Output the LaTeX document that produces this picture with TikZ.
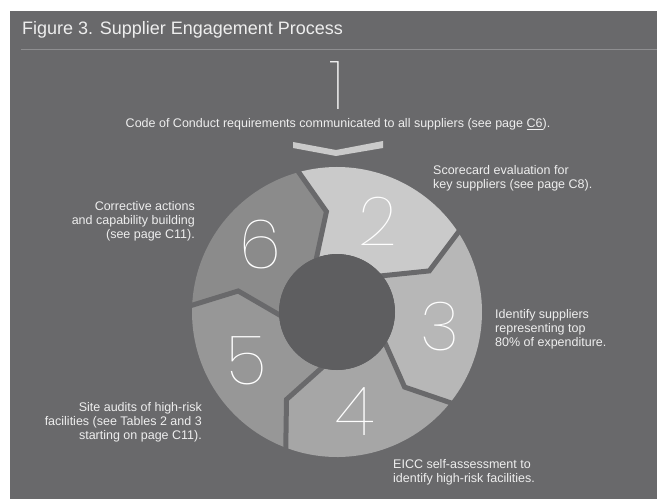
\documentclass[tikz,border=0pt]{standalone}
\usepackage{fontspec}
\setmainfont{Liberation Sans}
\newfontfamily\delgada{Poppins}[UprightFont={* Thin}]
\usepackage{xcolor}
\usetikzlibrary{positioning}
\definecolor{fondo}{HTML}{69696B}
\definecolor{centro}{HTML}{5E5E60}
\definecolor{linea}{HTML}{8E8E90}
\definecolor{texto}{HTML}{EEEEEE}
\definecolor{segDos}{HTML}{CACACA}
\definecolor{segTres}{HTML}{B7B7B7}
\definecolor{segCuatro}{HTML}{A6A6A6}
\definecolor{segCinco}{HTML}{979797}
\definecolor{segSeis}{HTML}{8B8B8B}

\begin{document}
\begin{tikzpicture}[x=1pt, y=-1pt,
            etiqueta/.style={text=texto, font=\fontsize{12.5}{14}\selectfont, inner sep=0pt},
            numero/.style={text=white, font=\delgada\fontsize{68}{68}\selectfont, inner sep=0pt},
            hueco/.style={fondo, line width=5pt}
        ]
\useasboundingbox (0,0) rectangle (657,499);
\fill[white] (0,0) rectangle (657,499);
\fill[fondo] (10,11) rectangle (657,499);

\node[etiqueta, font=\fontsize{18}{18}\selectfont, anchor=west] (titulo) at (22,30) {Figure 3. Supplier Engagement Process};
\draw[linea, line width=1pt] (21,49) -- (657,49);

% anillo
\begin{scope}[shift={(337,312)}]
\foreach \a/\col in {96/segDos, 24/segTres, -48/segCuatro, -120/segCinco, -192/segSeis} {
  \pgfmathsetmacro{\b}{\a-72}
  \fill[\col] (\a+10:145pt) arc[start angle=\a+10, end angle=\b+10, radius=145pt]
    -- (\b:101pt) -- (\b+16:58pt) arc[start angle=\b+16, end angle=\a+16, radius=58pt]
    -- (\a:101pt) -- cycle;
}
\foreach \a in {96, 24, -48, -120, -192}
  \draw[hueco] (\a+10:150pt) -- (\a:101pt) -- (\a+16:56pt);
\fill[centro] (0,0) circle[radius=58pt];
\end{scope}

% flecha del paso 1
\fill[segDos] (293,142) -- (336,150) -- (383,141) -- (383,148) -- (336,156) -- (293,148) -- cycle;

\node[numero] (uno) at (337,86) {1};
\node[numero] (dos) at (378,221) {2};
\node[numero] (tres) at (440,327) {3};
\node[numero] (cuatro) at (355,412) {4};
\node[numero] (cinco) at (247,361) {5};
\node[numero] (seis) at (260,245) {6};

\node[etiqueta, anchor=north] (t1) at (338,118) {Code of Conduct requirements communicated to all suppliers (see page \underline{C6}).};
\node[etiqueta, align=left, anchor=north west] (t2) at (433,165) {Scorecard evaluation for\\key suppliers (see page C8).};
\node[etiqueta, align=left, anchor=north west] (t3) at (495,309) {Identify suppliers\\representing top\\80\% of expenditure.};
\node[etiqueta, align=left, anchor=north west] (t4) at (393,459) {EICC self-assessment to\\identify high-risk facilities.};
\node[etiqueta, align=right, anchor=north east] (t5) at (202,402) {Site audits of high-risk\\facilities (see Tables 2 and 3\\starting on page C11).};
\node[etiqueta, align=right, anchor=north east] (t6) at (195,201) {Corrective actions\\and capability building\\(see page C11).};
\end{tikzpicture}
\end{document}
